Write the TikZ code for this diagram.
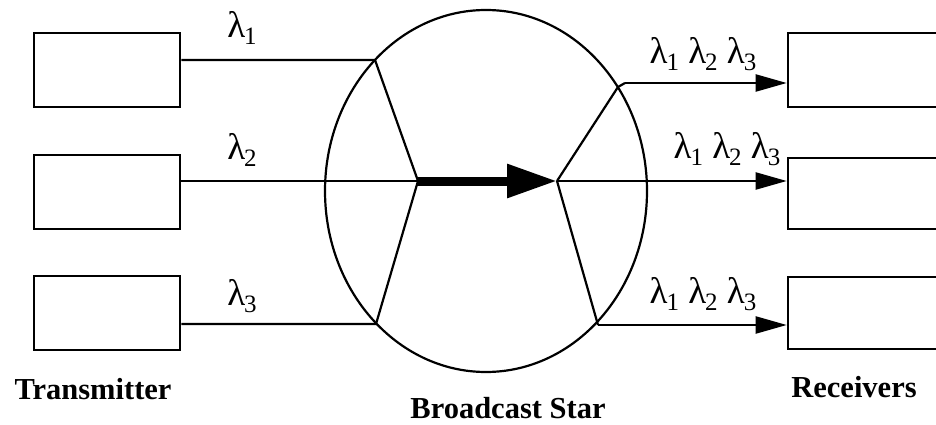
\documentclass[tikz,border=0pt]{standalone}
\usepackage{fontspec}
\setmainfont{Liberation Serif}
\usetikzlibrary{arrows.meta}
\newcommand{\lam}[1]{λ\kern-1pt\raisebox{-7pt}{\fontsize{25}{25}\selectfont #1}}
\begin{document}
\begin{tikzpicture}[x=1pt,y=-1pt,
  boxst/.style={draw,line width=2.6pt,minimum width=146pt,inner sep=0pt},
  rboxst/.style={draw,line width=2.6pt,minimum width=172pt,inner sep=0pt},
  wire/.style={line width=2.2pt},
  arr/.style={line width=2.2pt,-{Triangle[length=31pt,width=17pt]}},
  lamlbl/.style={font=\fontsize{37}{37}\selectfont,inner sep=0pt},
  title/.style={font=\fontsize{30.5}{30.5}\selectfont\bfseries,inner sep=0pt}]
\useasboundingbox (0,0) rectangle (936,425);
\clip (0,0) rectangle (936,425);
% transmitters
\node[boxst,minimum height=74pt] (t1) at (107,70) {};
\node[boxst,minimum height=74pt] (t2) at (107,192) {};
\node[boxst,minimum height=74pt] (t3) at (107,313) {};
% receivers
\node[rboxst,minimum height=74pt] (r1) at (874,70) {};
\node[rboxst,minimum height=71pt] (r2) at (874,193.5) {};
\node[rboxst,minimum height=72pt] (r3) at (874,313) {};
% star
\draw[line width=2.2pt] (486,191) ellipse [x radius=161, y radius=181];
\coordinate (L1) at (375,60);
\coordinate (L3) at (376,324);
\coordinate (CL) at (418,181);
\coordinate (CR) at (557,181);
\coordinate (R1) at (618,87);
\coordinate (R1b) at (625,83);
\coordinate (R3) at (598,325);
% inputs
\draw[wire] (t1.east |- L1) -- (L1) -- (CL);
\draw[wire] (t2.east |- CL) -- (CL);
\draw[wire] (t3.east |- L3) -- (L3) -- (CL);
% thick arrow
\draw[line width=9pt,-{Triangle[length=50pt 0 0,width=32pt 0 0]}] (CL) -- (CR);
% outputs
\draw[wire] (CR) -- (R1) -- (R1b);
\draw[arr] (R1b) -- (R1b -| r1.west);
\draw[arr] (CR) -- (CR -| r2.west);
\draw[wire] (CR) -- (R3);
\draw[arr] (R3) -- (R3 -| r3.west);
% labels
\node[lamlbl] (a1) at (242,28) {\lam{1}};
\node[lamlbl] (a2) at (242,150) {\lam{2}};
\node[lamlbl] (a3) at (242,296) {\lam{3}};
\node[lamlbl] (b1) at (703,54) {\lam{1} \lam{2} \lam{3}};
\node[lamlbl] (b2) at (727,149) {\lam{1} \lam{2} \lam{3}};
\node[lamlbl] (b3) at (703,294) {\lam{1} \lam{2} \lam{3}};
\node[title] (tx) at (93,389) {Transmitter};
\node[title] (bs) at (508,408) {Broadcast Star};
\node[title] (rx) at (854,387) {Receivers};
\end{tikzpicture}
\end{document}
